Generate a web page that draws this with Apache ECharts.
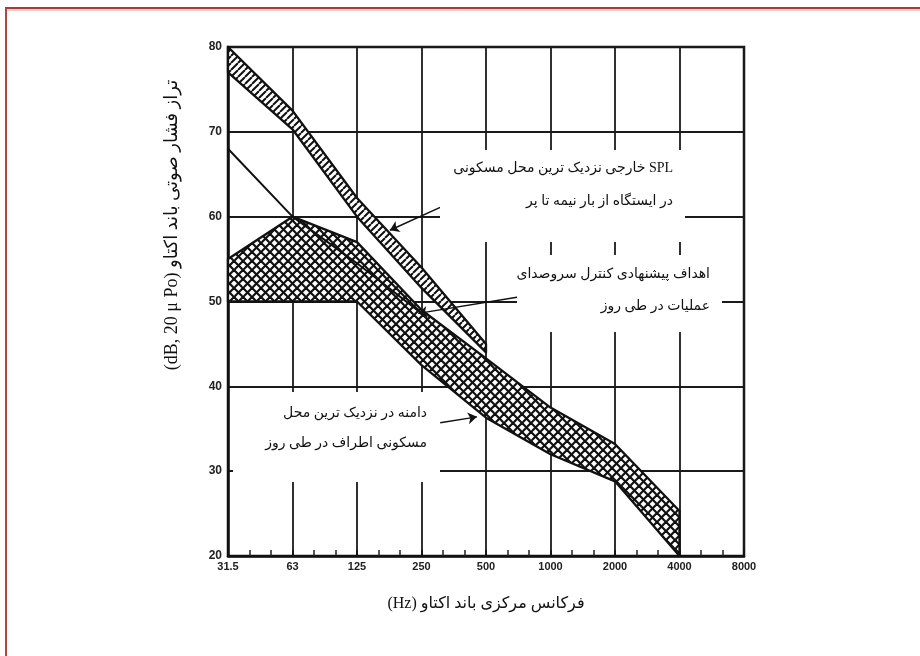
<!DOCTYPE html>
<html><head><meta charset="utf-8">
<script src="https://cdn.jsdelivr.net/npm/echarts@6/dist/echarts.min.js"></script>
<style>html,body{margin:0;padding:0;background:#fff}#c{width:920px;height:656px}</style>
</head><body><div id="c"></div>
<script>
// ---- data ----
const xLabels = ['31.5','63','125','250','500','1000','2000','4000','8000'];
const octaveIdx = [0,1,2,3,4,5,6,7,8];
// outdoor SPL band at nearest residence (half to full load)
const splX = [0,1,2,3,4];
const splUpper = [80,72.5,62.2,54,45];
const splLower = [77,70.3,60,51.6,44];
// daytime range at nearest residence
const rangeX = [0,1,2,3,4,5,6,7];
const rangeUpper = [55,60,57,49,43.3,37.5,33.2,25.3];
const rangeLower = [50,50,50,42.5,36.3,32,28.8,20];
// proposed daytime noise-control objective
const objX = [0,1,2,3];
const objLine = [68,60,54.5,48.6];

const serif = '"Liberation Serif","DejaVu Serif","DejaVu Sans",serif';

function makeCross(s, lw){
  const c=document.createElement('canvas'); c.width=c.height=s;
  const g=c.getContext('2d'); g.fillStyle='#fff'; g.fillRect(0,0,s,s);
  g.strokeStyle='#111'; g.lineWidth=lw;
  for(const d of [-s,0,s]){
    g.beginPath(); g.moveTo(d,0); g.lineTo(d+s,s); g.stroke();
    g.beginPath(); g.moveTo(d+s,0); g.lineTo(d,s); g.stroke();
  }
  return c;
}
function makeRung(s, lw){
  const c=document.createElement('canvas'); c.width=c.height=s;
  const g=c.getContext('2d'); g.fillStyle='#fff'; g.fillRect(0,0,s,s);
  g.strokeStyle='#111'; g.lineWidth=lw;
  for(const d of [-s,0,s]){
    g.beginPath(); g.moveTo(d+s,0); g.lineTo(d,s); g.stroke();
  }
  return c;
}
const crossPat = makeCross(9, 2.2);
const rungPat = makeRung(7, 2);

function band(xs, up, lo, pat){
  return function(params, api){
    if(params.dataIndex!==0) return;
    const pts=[];
    xs.forEach((x,i)=>pts.push(api.coord([x,up[i]])));
    for(let i=xs.length-1;i>=0;i--) pts.push(api.coord([xs[i],lo[i]]));
    return {type:'polygon', shape:{points:pts},
      style:{fill:{image:pat, repeat:'repeat'}, stroke:'#111', lineWidth:2.3, lineJoin:'round'}};
  };
}

const chart = echarts.init(document.getElementById('c'), null, {renderer:'canvas'});
const boxTxt = (t, x, y) => ({type:'text', x:x, y:y, z:101,
  style:{text:t, font:'14px '+serif, fill:'#111', align:'right', textAlign:'right', verticalAlign:'middle', textVerticalAlign:'middle'}});
chart.setOption({
  animation:false,
  backgroundColor:'#fff',
  grid:{left:228, right:176, top:47, bottom:100, show:true, borderColor:'#111', borderWidth:2.5},
  xAxis:{type:'value', min:0, max:8, interval:1,
    name:'(Hz) فرکانس مرکزی باند اکتاو', nameLocation:'middle', nameGap:40,
    nameTextStyle:{fontFamily:serif, fontSize:16, color:'#111'},
    axisLine:{show:true, lineStyle:{color:'#111', width:2.5}},
    axisTick:{show:true, inside:true, length:6, lineStyle:{color:'#111', width:1.5}},
    minorTick:{show:true, splitNumber:3, length:6, lineStyle:{color:'#222', width:1.5}},
    axisLabel:{margin:5, fontSize:11, fontWeight:'bold', color:'#222', fontFamily:'"Liberation Sans",sans-serif',
      formatter:v=>xLabels[octaveIdx.indexOf(Math.round(v))] ?? ''},
    splitLine:{show:true, lineStyle:{color:'#1a1a1a', width:1.8}}},
  yAxis:{type:'value', min:20, max:80, interval:10,
    axisLine:{show:true, lineStyle:{color:'#111', width:2.5}},
    axisTick:{show:false},
    axisLabel:{margin:6, fontSize:12, fontWeight:'bold', color:'#222', fontFamily:'"Liberation Sans",sans-serif'},
    splitLine:{show:true, lineStyle:{color:'#1a1a1a', width:1.8}}},
  series:[
    {type:'custom', name:'range', z:3, silent:true, renderItem:band(rangeX, rangeUpper, rangeLower, crossPat),
      data:[[rangeX[0], rangeUpper[0]]]},
    {type:'custom', name:'spl', z:4, silent:true, renderItem:band(splX, splUpper, splLower, rungPat),
      data:[[splX[0], splUpper[0]]]},
    {type:'line', name:'objective', z:5, silent:true, symbol:'none',
      lineStyle:{color:'#111', width:2},
      data:objX.map((x,i)=>[x,objLine[i]]),
      markLine:{silent:true, symbol:['none','arrow'], symbolSize:9, animation:false,
        label:{show:false}, lineStyle:{color:'#111', width:1.5, type:'solid'},
        data:[
          [{coord:[3.29,61.1]},{coord:[2.51,58.4]}],
          [{coord:[4.48,50.5]},{coord:[2.95,48.6]}],
          [{coord:[3.29,35.7]},{coord:[3.86,36.4]}]
        ]}}
  ],
  graphic:[
    {type:'line', shape:{x1:5,y1:8,x2:920,y2:8}, style:{stroke:'#a83a3a', lineWidth:2}, z:200},
    {type:'line', shape:{x1:5,y1:10,x2:920,y2:10}, style:{stroke:'#dc9a9a', lineWidth:1}, z:200},
    {type:'line', shape:{x1:6,y1:8,x2:6,y2:656}, style:{stroke:'#b04545', lineWidth:2}, z:200},
    {type:'rect', shape:{x:440,y:150,width:245,height:92}, style:{fill:'#fff'}, z:100},
    {type:'rect', shape:{x:517,y:255,width:205,height:77}, style:{fill:'#fff'}, z:100},
    {type:'rect', shape:{x:233,y:392,width:207,height:90}, style:{fill:'#fff'}, z:100},
    boxTxt('خارجی نزدیک ترین محل مسکونی SPL', 673, 168),
    boxTxt('در ایستگاه از بار نیمه تا پر', 673, 201),
    boxTxt('اهداف پیشنهادی کنترل سروصدای', 710, 274),
    boxTxt('عملیات در طی روز', 710, 306),
    boxTxt('دامنه در نزدیک ترین محل', 427, 413),
    boxTxt('مسکونی اطراف در طی روز', 427, 443),
    {type:'text', x:172, y:225, rotation:Math.PI/2, z:101,
      style:{text:'(dB, 20 μ Po) تراز فشار صوتی باند اکتاو', font:'18px '+serif, fill:'#111',
        align:'center', textAlign:'center', verticalAlign:'middle', textVerticalAlign:'middle'}}
  ]
});
</script></body></html>
